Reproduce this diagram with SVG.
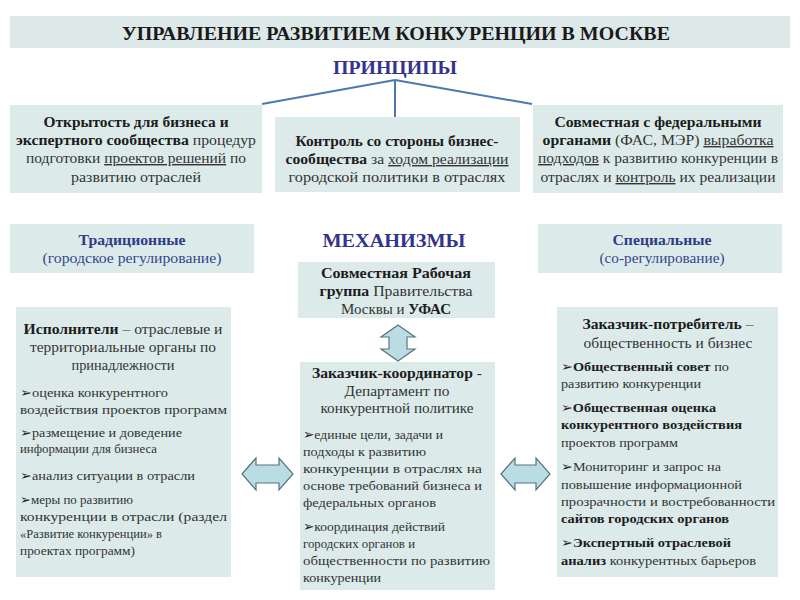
<svg xmlns="http://www.w3.org/2000/svg" width="800" height="600" viewBox="0 0 800 600" style="font-family:'Liberation Serif','Times New Roman',serif">
<style>
.bg{fill:#ffffff}
.box{fill:#dcebea}
.band{fill:#dde9e9}
text{font-family:'Liberation Serif','Times New Roman',serif;fill:#333333}
.c{text-anchor:middle;font-size:14px}
.s{font-size:12.5px}
.m{font-size:13.5px}
.b{font-weight:bold;fill:#1c1c1c}
.u{text-decoration:underline}
.blue{fill:#2f3b88}
.bl{fill:#34468e}
.title{font-size:19px;font-weight:bold;fill:#1a1a1a;text-anchor:middle}
.head{font-size:19px;font-weight:bold;fill:#34348a;text-anchor:middle}
.k{font-family:'DejaVu Sans',sans-serif;fill:#222222}
.conn{stroke:#4a79ad;stroke-width:2;fill:none}
.arr{fill:#b9dde3;stroke:#5a737c;stroke-width:1.2;stroke-linejoin:miter}
</style>
<rect class="bg" x="0" y="0" width="800" height="600"/>

<g id="title">
<rect class="band" x="10" y="16" width="780" height="32"/>
<text class="title" x="396" y="40" textLength="548" lengthAdjust="spacingAndGlyphs">УПРАВЛЕНИЕ РАЗВИТИЕМ КОНКУРЕНЦИИ В МОСКВЕ</text>
</g>

<g id="principles">
<text class="head" x="395" y="74" textLength="124" lengthAdjust="spacingAndGlyphs">ПРИНЦИПЫ</text>
</g>

<g id="connectors">
<line class="conn" x1="395" y1="80" x2="262" y2="104"/>
<line class="conn" x1="395" y1="80" x2="395" y2="117"/>
<line class="conn" x1="395" y1="80" x2="532" y2="104"/>
<path class="arr" d="M398,325 L415,337 L407,337 L407,349 L415,349 L398,361 L381,349 L389,349 L389,337 L381,337 Z"/>
<path class="arr" d="M242,474 L256,458 L256,465 L279,465 L279,458 L293,474 L279,490 L279,483 L256,483 L256,490 Z"/>
<path class="arr" d="M501,474 L515,458 L515,465 L536,465 L536,458 L550,474 L536,490 L536,483 L515,483 L515,490 Z"/>
</g>

<g id="p1">
<rect class="box" x="10" y="105" width="252" height="88"/>
<text class="c" x="136" y="127" textLength="185" lengthAdjust="spacingAndGlyphs"><tspan class="b">Открытость для бизнеса и</tspan></text>
<text class="c" x="136" y="145" textLength="240" lengthAdjust="spacingAndGlyphs"><tspan class="b">экспертного сообщества</tspan> процедур</text>
<text class="c" x="136" y="163" textLength="220" lengthAdjust="spacingAndGlyphs">подготовки <tspan class="u">проектов решений</tspan> по</text>
<text class="c" x="136" y="182" textLength="130" lengthAdjust="spacingAndGlyphs">развитию отраслей</text>
</g>

<g id="p2">
<rect class="box" x="275" y="117" width="245" height="75"/>
<text class="c" x="397" y="146" textLength="203" lengthAdjust="spacingAndGlyphs"><tspan class="b">Контроль со стороны бизнес-</tspan></text>
<text class="c" x="397" y="164" textLength="223" lengthAdjust="spacingAndGlyphs"><tspan class="b">сообщества</tspan> за <tspan class="u">ходом реализации</tspan></text>
<text class="c" x="397" y="182" textLength="217" lengthAdjust="spacingAndGlyphs">городской политики в отраслях</text>
</g>

<g id="p3">
<rect class="box" x="533" y="105" width="250" height="88"/>
<text class="c" x="658" y="127" textLength="207" lengthAdjust="spacingAndGlyphs"><tspan class="b">Совместная с федеральными</tspan></text>
<text class="c" x="658" y="145" textLength="231" lengthAdjust="spacingAndGlyphs"><tspan class="b">органами</tspan> (ФАС, МЭР) <tspan class="u">выработка</tspan></text>
<text class="c" x="658" y="163" textLength="240" lengthAdjust="spacingAndGlyphs"><tspan class="u">подходов</tspan> к развитию конкуренции в</text>
<text class="c" x="658" y="182" textLength="235" lengthAdjust="spacingAndGlyphs">отраслях и <tspan class="u">контроль</tspan> их реализации</text>
</g>

<g id="traditional">
<rect class="box" x="10" y="224" width="244" height="49"/>
<text class="c b blue" x="132" y="245" textLength="107" lengthAdjust="spacingAndGlyphs">Традиционные</text>
<text class="c bl" x="132" y="263" textLength="179" lengthAdjust="spacingAndGlyphs">(городское регулирование)</text>
</g>

<g id="mechanisms">
<text class="head" x="394" y="247" font-size="20" textLength="143" lengthAdjust="spacingAndGlyphs">МЕХАНИЗМЫ</text>
</g>

<g id="special">
<rect class="box" x="538" y="224" width="244" height="49"/>
<text class="c b blue" x="662" y="245" textLength="99" lengthAdjust="spacingAndGlyphs">Специальные</text>
<text class="c bl" x="662" y="263" textLength="125" lengthAdjust="spacingAndGlyphs">(со-регулирование)</text>
</g>

<g id="workgroup">
<rect class="box" x="298" y="262" width="197" height="56"/>
<text class="c" x="396" y="278" textLength="150" lengthAdjust="spacingAndGlyphs"><tspan class="b">Совместная Рабочая</tspan></text>
<text class="c" x="396" y="296" textLength="153" lengthAdjust="spacingAndGlyphs"><tspan class="b">группа</tspan> Правительства</text>
<text class="c" x="396" y="314" textLength="110" lengthAdjust="spacingAndGlyphs">Москвы и <tspan class="b">УФАС</tspan></text>
</g>

<g id="executors">
<rect class="box" x="16" y="307" width="215" height="270"/>
<text class="c" x="123" y="334" textLength="199" lengthAdjust="spacingAndGlyphs"><tspan class="b">Исполнители</tspan> – отраслевые и</text>
<text class="c" x="123" y="352" textLength="186" lengthAdjust="spacingAndGlyphs">территориальные органы по</text>
<text class="c" x="123" y="370" textLength="103" lengthAdjust="spacingAndGlyphs">принадлежности</text>
<text class="s" x="20" y="397" textLength="148" lengthAdjust="spacingAndGlyphs"><tspan class="k">➢</tspan>оценка конкурентного</text>
<text class="s" x="20" y="414" textLength="207" lengthAdjust="spacingAndGlyphs">воздействия проектов программ</text>
<text class="s" x="20" y="437" textLength="162" lengthAdjust="spacingAndGlyphs"><tspan class="k">➢</tspan>размещение и доведение</text>
<text class="s" x="20" y="453" textLength="137" lengthAdjust="spacingAndGlyphs">информации для бизнеса</text>
<text class="s" x="20" y="480" textLength="175" lengthAdjust="spacingAndGlyphs"><tspan class="k">➢</tspan>анализ ситуации в отрасли</text>
<text class="s" x="20" y="504" textLength="113" lengthAdjust="spacingAndGlyphs"><tspan class="k">➢</tspan>меры по развитию</text>
<text class="s" x="20" y="521" textLength="207" lengthAdjust="spacingAndGlyphs">конкуренции в отрасли (раздел</text>
<text class="s" x="20" y="538" textLength="142" lengthAdjust="spacingAndGlyphs">«Развитие конкуренции» в</text>
<text class="s" x="20" y="555" textLength="115" lengthAdjust="spacingAndGlyphs">проектах программ)</text>
</g>

<g id="coordinator">
<rect class="box" x="300" y="362" width="195" height="228"/>
<text class="c" x="397" y="378" textLength="170" lengthAdjust="spacingAndGlyphs"><tspan class="b">Заказчик-координатор</tspan> -</text>
<text class="c" x="397" y="396" textLength="105" lengthAdjust="spacingAndGlyphs">Департамент по</text>
<text class="c" x="397" y="413" textLength="153" lengthAdjust="spacingAndGlyphs">конкурентной политике</text>
<text class="m" x="303" y="439" textLength="140" lengthAdjust="spacingAndGlyphs"><tspan class="k">➢</tspan>единые цели, задачи и</text>
<text class="m" x="303" y="456" textLength="123" lengthAdjust="spacingAndGlyphs">подходы к развитию</text>
<text class="m" x="303" y="473" textLength="179" lengthAdjust="spacingAndGlyphs">конкуренции в отраслях на</text>
<text class="m" x="303" y="490" textLength="179" lengthAdjust="spacingAndGlyphs">основе требований бизнеса и</text>
<text class="m" x="303" y="507" textLength="133" lengthAdjust="spacingAndGlyphs">федеральных органов</text>
<text class="m" x="303" y="531" textLength="142" lengthAdjust="spacingAndGlyphs"><tspan class="k">➢</tspan>координация действий</text>
<text class="m" x="303" y="548" textLength="112" lengthAdjust="spacingAndGlyphs">городских органов и</text>
<text class="m" x="303" y="565" textLength="187" lengthAdjust="spacingAndGlyphs">общественности по развитию</text>
<text class="m" x="303" y="582" textLength="78" lengthAdjust="spacingAndGlyphs">конкуренции</text>
</g>

<g id="consumer">
<rect class="box" x="557" y="307" width="221" height="270"/>
<text class="c" x="668" y="329" textLength="171" lengthAdjust="spacingAndGlyphs"><tspan class="b">Заказчик-потребитель</tspan> –</text>
<text class="c" x="668" y="348" textLength="169" lengthAdjust="spacingAndGlyphs">общественность и бизнес</text>
<text class="s" x="561" y="371" textLength="168" lengthAdjust="spacingAndGlyphs"><tspan class="k">➢</tspan><tspan class="b">Общественный совет</tspan> по</text>
<text class="s" x="561" y="388" textLength="140" lengthAdjust="spacingAndGlyphs">развитию конкуренции</text>
<text class="s" x="561" y="412" textLength="155" lengthAdjust="spacingAndGlyphs"><tspan class="k">➢</tspan><tspan class="b">Общественная оценка</tspan></text>
<text class="s" x="561" y="429" textLength="181" lengthAdjust="spacingAndGlyphs"><tspan class="b">конкурентного воздействия</tspan></text>
<text class="s" x="561" y="447" textLength="117" lengthAdjust="spacingAndGlyphs">проектов программ</text>
<text class="s" x="561" y="471" textLength="160" lengthAdjust="spacingAndGlyphs"><tspan class="k">➢</tspan>Мониторинг и запрос на</text>
<text class="s" x="561" y="489" textLength="181" lengthAdjust="spacingAndGlyphs">повышение информационной</text>
<text class="s" x="561" y="506" textLength="214" lengthAdjust="spacingAndGlyphs">прозрачности и востребованности</text>
<text class="s" x="561" y="523" textLength="168" lengthAdjust="spacingAndGlyphs"><tspan class="b">сайтов городских органов</tspan></text>
<text class="s" x="561" y="547" textLength="170" lengthAdjust="spacingAndGlyphs"><tspan class="k">➢</tspan><tspan class="b">Экспертный отраслевой</tspan></text>
<text class="s" x="561" y="565" textLength="195" lengthAdjust="spacingAndGlyphs"><tspan class="b">анализ</tspan> конкурентных барьеров</text>
</g>
</svg>
